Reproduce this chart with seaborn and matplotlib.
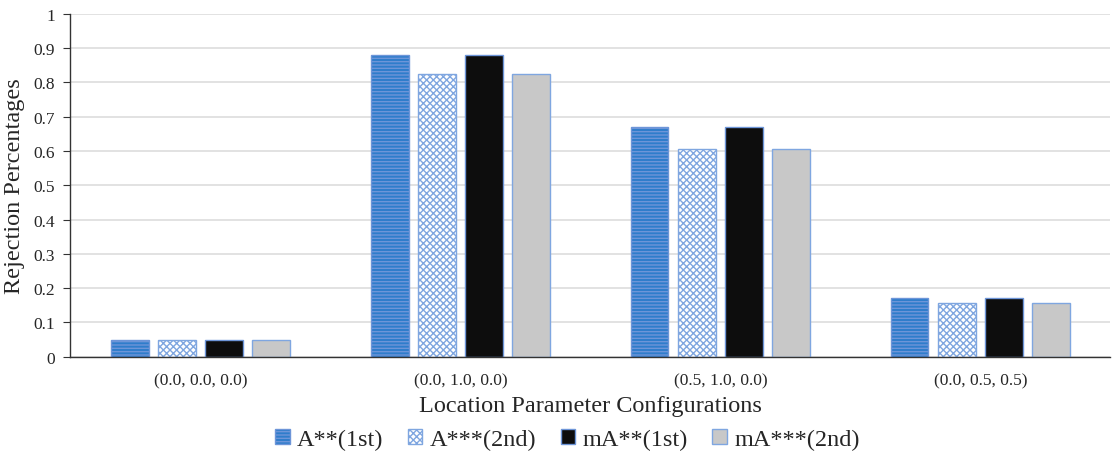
import pandas as pd
import numpy as np
import matplotlib.pyplot as plt
import seaborn as sns
from matplotlib.ticker import FixedLocator, FuncFormatter

# values
configs = ['(0.0, 0.0, 0.0)', '(0.0, 1.0, 0.0)', '(0.5, 1.0, 0.0)', '(0.0, 0.5, 0.5)']
tests = ['A**(1st)', 'A***(2nd)', 'mA**(1st)', 'mA***(2nd)']
a_1st = [0.050, 0.880, 0.670, 0.170]
a_2nd = [0.048, 0.823, 0.605, 0.156]
ma_1st = [0.050, 0.880, 0.670, 0.170]
ma_2nd = [0.048, 0.823, 0.605, 0.156]

df = pd.DataFrame({
    'config': configs * 4,
    'test': [t for t in tests for _ in configs],
    'value': a_1st + a_2nd + ma_1st + ma_2nd,
})

sns.set_style("white")
plt.rcParams['font.family'] = ['Liberation Serif', 'DejaVu Serif']
plt.rcParams['hatch.linewidth'] = 1.0

face = ['#2F7DCB', 'white', '#0D0D0D', '#C8C8C8']
edge = ['#6D95D8', '#7FA6E0', '#6D95D8', '#7FA6E0']
hatches = ['-----', 'xxxxx', '', '']

fig = plt.figure(figsize=(11.17, 4.6), dpi=100)
ax = fig.add_axes([0.063, 0.2224, 0.931, 0.7456])

sns.barplot(data=df, x='config', y='value', hue='test', order=configs,
            hue_order=tests, width=0.725, gap=0.2, ax=ax, legend=False)

for i, cont in enumerate(ax.containers):
    for p in cont:
        p.set_facecolor(face[i])
        p.set_edgecolor(edge[i])
        p.set_hatch(hatches[i])
        p.set_linewidth(1.0)

ax.set_ylim(0, 1)
ax.set_xlim(-0.5, 3.5)
ax.yaxis.set_major_locator(FixedLocator(np.arange(0, 1.01, 0.1)))
ax.yaxis.set_major_formatter(FuncFormatter(lambda v, pos: f'{v:.1f}'.rstrip('0').rstrip('.') if v else '0'))
ax.grid(axis='y', color='#DDDDDD', linewidth=1.2)
ax.set_axisbelow(True)

for s in ['top', 'right']:
    ax.spines[s].set_visible(False)
for s in ['left', 'bottom']:
    ax.spines[s].set_color('#333333')
    ax.spines[s].set_linewidth(1.0)

ax.tick_params(axis='x', which='major', length=0, labelsize=12.5, pad=11)
ax.xaxis.set_minor_locator(FixedLocator([0.5, 1.5, 2.5]))
ax.tick_params(axis='x', which='minor', length=5, direction='out', color='#333333')
ax.tick_params(axis='y', length=5, direction='out', labelsize=12.5, color='#333333', left=True, pad=6)

ax.set_xlabel('Location Parameter Configurations', fontsize=17.5, labelpad=5)
ax.set_ylabel('Rejection Percentages', fontsize=17.5, labelpad=6)

handles = [plt.Rectangle((0, 0), 1, 1, facecolor=face[i], edgecolor=edge[i],
                         hatch=hatches[i], linewidth=1.0) for i in range(4)]
fig.legend(handles, tests, loc='center', bbox_to_anchor=(0.508, 0.043), ncol=4,
           frameon=False, fontsize=17.5, handlelength=0.6, handleheight=0.6,
           handletextpad=0.3, columnspacing=1.0)

fig.savefig('out.png', dpi=100)
